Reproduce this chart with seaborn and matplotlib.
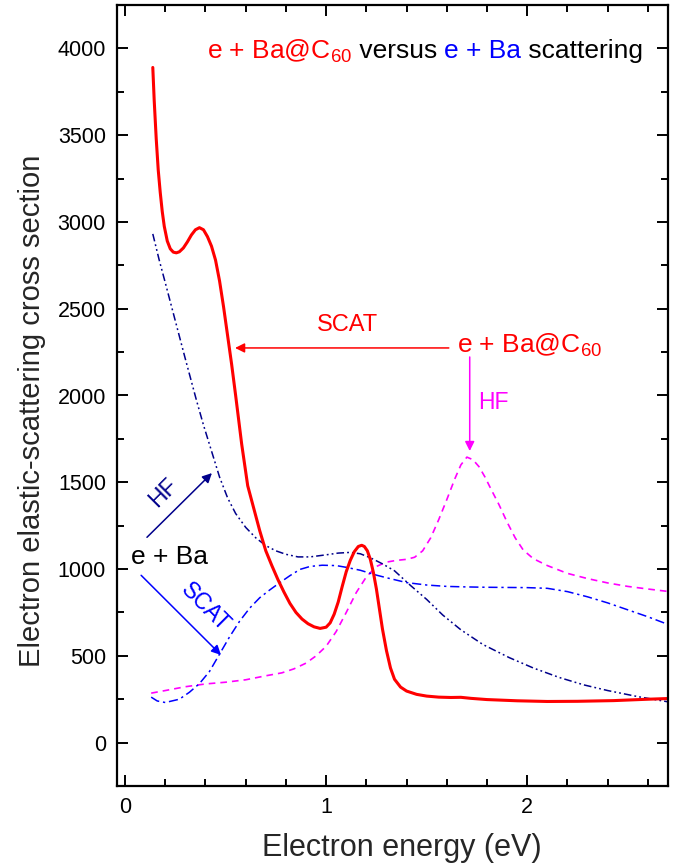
import matplotlib
matplotlib.use("Agg")
import matplotlib.pyplot as plt
import seaborn as sns
import pandas as pd
from matplotlib.ticker import MultipleLocator

# ---------------- data ----------------
scat_c60_x = [0.138, 0.145, 0.155, 0.165, 0.175, 0.185, 0.195, 0.21, 0.225, 0.24, 0.255,
              0.27, 0.29, 0.31, 0.33, 0.35, 0.37, 0.39, 0.41, 0.43, 0.45, 0.47, 0.49,
              0.51, 0.53, 0.55, 0.58, 0.61, 0.64, 0.67, 0.70, 0.73, 0.76, 0.79, 0.82,
              0.85, 0.88, 0.91, 0.94, 0.97, 1.00, 1.02, 1.04, 1.06, 1.08, 1.10, 1.12,
              1.14, 1.16, 1.177, 1.19, 1.205, 1.22, 1.235, 1.25, 1.265, 1.28, 1.30,
              1.32, 1.34, 1.37, 1.40, 1.45, 1.50, 1.56, 1.62, 1.67, 1.72, 1.80, 1.95,
              2.10, 2.25, 2.43, 2.60, 2.70]
scat_c60_y = [3890, 3700, 3480, 3300, 3170, 3060, 2975, 2890, 2845, 2826, 2822,
              2828, 2850, 2885, 2925, 2955, 2967, 2955, 2915, 2860, 2780, 2660, 2510,
              2345, 2180, 2000, 1720, 1480, 1350, 1220, 1105, 1020, 940, 868, 802,
              750, 712, 685, 667, 658, 665, 690, 740, 810, 900, 985, 1050,
              1100, 1130, 1137, 1130, 1105, 1055, 980, 885, 770, 655, 530,
              430, 365, 320, 297, 278, 268, 262, 260, 261, 255, 248, 241,
              237, 238, 242, 250, 254]

hf_c60_x = [0.13, 0.20, 0.30, 0.40, 0.50, 0.60, 0.70, 0.78, 0.84, 0.90, 0.95, 1.00,
            1.05, 1.10, 1.15, 1.20, 1.25, 1.30, 1.35, 1.40, 1.44, 1.48, 1.52, 1.56,
            1.60, 1.64, 1.67, 1.70, 1.73, 1.76, 1.79, 1.82, 1.86, 1.90, 1.94, 1.98,
            2.03, 2.10, 2.20, 2.30, 2.40, 2.50, 2.60, 2.70]
hf_c60_y = [285, 300, 322, 338, 348, 362, 385, 402, 425, 458, 500, 555,
            640, 750, 865, 955, 1015, 1040, 1050, 1056, 1068, 1105, 1180, 1285,
            1400, 1520, 1600, 1645, 1630, 1590, 1530, 1460, 1370, 1270, 1180, 1110,
            1060, 1020, 975, 945, 920, 900, 885, 871]

hf_ba_x = [0.138, 0.17, 0.20, 0.25, 0.30, 0.355, 0.39, 0.43, 0.47, 0.51, 0.55, 0.60,
           0.65, 0.70, 0.75, 0.80, 0.86, 0.92, 1.00, 1.06, 1.12, 1.17, 1.22, 1.28,
           1.34, 1.42, 1.50, 1.58, 1.67, 1.78, 1.91, 2.03, 2.16, 2.28, 2.40, 2.55, 2.70]
hf_ba_y = [2931, 2780, 2650, 2430, 2210, 1973, 1830, 1680, 1530, 1410, 1320, 1240,
           1180, 1135, 1105, 1085, 1070, 1070, 1082, 1092, 1096, 1088, 1065, 1030,
           990, 905, 825, 735, 650, 565, 490, 430, 375, 333, 300, 265, 235]

scat_ba_x = [0.13, 0.16, 0.20, 0.27, 0.32, 0.37, 0.42, 0.47, 0.52, 0.57, 0.62, 0.67,
             0.72, 0.77, 0.82, 0.87, 0.92, 0.98, 1.05, 1.10, 1.17, 1.25, 1.30, 1.40,
             1.50, 1.60, 1.70, 1.80, 1.90, 2.00, 2.10, 2.20, 2.30, 2.40, 2.50, 2.60, 2.70]
scat_ba_y = [262, 240, 231, 250, 290, 340, 410, 510, 610, 700, 775, 835,
             880, 922, 962, 998, 1015, 1022, 1020, 1010, 993, 965, 950, 922,
             908, 900, 897, 895, 894, 893, 889, 870, 840, 805, 765, 725, 681]

x_ticks = [0, 1, 2]
y_ticks = [0, 500, 1000, 1500, 2000, 2500, 3000, 3500, 4000]

# ---------------- style ----------------
sns.set_style("ticks")
plt.rcParams["font.family"] = ["Liberation Sans", "DejaVu Sans"]

RED = "#ff0000"
MAG = "#ff00ff"
NAVY = "#00008b"
BLUE = "#0000ff"

fig = plt.figure(figsize=(6.76, 8.67), dpi=100)
ax = fig.add_axes([117 / 676, 1 - 786 / 867, (668 - 117) / 676, (786 - 5) / 867])

def draw(xs, ys, color, lw, ls):
    df = pd.DataFrame({"x": xs, "y": ys})
    sns.lineplot(data=df, x="x", y="y", ax=ax, color=color, linewidth=lw,
                 linestyle=ls, sort=False, estimator=None)

draw(hf_c60_x, hf_c60_y, MAG, 1.2, (0, (4, 3)))
draw(scat_ba_x, scat_ba_y, BLUE, 1.1, (0, (6, 2.5, 1.5, 2.5)))
draw(hf_ba_x, hf_ba_y, NAVY, 1.1, (0, (5, 2, 1.2, 2, 1.2, 2)))
draw(scat_c60_x, scat_c60_y, RED, 2.2, "-")

ax.set_xlim(-0.04, 2.70)
ax.set_ylim(-250, 4250)
ax.set_xticks(x_ticks)
ax.set_yticks(y_ticks)
ax.xaxis.set_minor_locator(MultipleLocator(0.2))
ax.yaxis.set_minor_locator(MultipleLocator(250))
ax.tick_params(which="both", direction="in", top=True, right=True, width=1.4,
               labelsize=15.5, colors="black")
ax.tick_params(which="major", length=8)
ax.tick_params(which="minor", length=5)
ax.tick_params(axis="x", pad=8)
ax.tick_params(axis="y", pad=8)
for s in ax.spines.values():
    s.set_linewidth(1.6)
    s.set_color("black")

ax.set_xlabel("Electron energy (eV)", fontsize=22)
ax.set_ylabel("Electron elastic-scattering cross section", fontsize=21)
ax.xaxis.set_label_coords(0.517, -0.060)
ax.yaxis.set_label_coords(-0.129, 0.48)

# ---------------- title made of coloured pieces ----------------
tfs = 19
t1 = ax.text(0.163, 0.932, "e + Ba@C$_{\\mathregular{60}}$", color=RED, fontsize=tfs,
             transform=ax.transAxes, va="baseline", ha="left")
prev = t1
for txt, col in [(" versus ", "black"), ("e + Ba", BLUE), (" scattering", "black")]:
    prev = ax.annotate(txt, xy=(1, 0.932), xycoords=(prev, ax.transAxes), color=col,
                       fontsize=tfs, va="baseline", ha="left")

# ---------------- annotations ----------------
ax.text(1.108, 2407, "SCAT", color=RED, fontsize=17, ha="center", va="center")
ax.annotate("", xy=(0.547, 2274), xytext=(1.61, 2274),
            arrowprops=dict(arrowstyle="-|>", color=RED, lw=1.1, mutation_scale=14,
                            shrinkA=0, shrinkB=0))
ax.text(1.65, 2250, "e + Ba@C$_{\\mathregular{60}}$", color=RED, fontsize=19,
        ha="left", va="baseline")
ax.annotate("", xy=(1.714, 1680), xytext=(1.714, 2222),
            arrowprops=dict(arrowstyle="-|>", color=MAG, lw=1.1, mutation_scale=14,
                            shrinkA=0, shrinkB=0))
ax.text(1.83, 1962, "HF", color=MAG, fontsize=16.5, ha="center", va="center")

ax.text(0.03, 1068, "e + Ba", color="black", fontsize=19, ha="left", va="center")
ax.annotate("", xy=(0.432, 1553), xytext=(0.109, 1183),
            arrowprops=dict(arrowstyle="-|>", color=NAVY, lw=1.1, mutation_scale=14,
                            shrinkA=0, shrinkB=0))
ax.text(0.19, 1440, "HF", color=NAVY, fontsize=16.5, ha="center", va="center", rotation=45)
ax.annotate("", xy=(0.477, 505), xytext=(0.08, 964),
            arrowprops=dict(arrowstyle="-|>", color=BLUE, lw=1.1, mutation_scale=14,
                            shrinkA=0, shrinkB=0))
ax.text(0.40, 780, "SCAT", color=BLUE, fontsize=16.5, ha="center", va="center", rotation=-45)

fig.savefig("out.png", dpi=100)
